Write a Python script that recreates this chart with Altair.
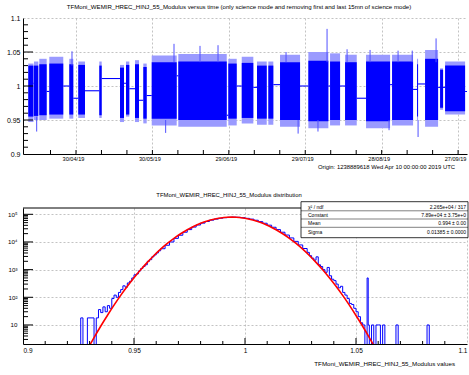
import altair as alt
import pandas as pd

FONT = "Liberation Sans"

# ---------------- top panel: modulus versus time ----------------
# x = days since origin (Wed Apr 10 00:00:00 2019 UTC)
blk_start = [1.27, 3.51, 5.59, 9.52, 17.37, 20.90, 29.15, 37.28, 39.63, 43.17, 46.43, 49.73, 60.17,
             79.80, 85.07, 91.07, 95.51, 100.10, 111.22, 119.74, 125.63, 133.87, 144.08, 153.90,
             157.04, 162.93, 164.90]
blk_end = [3.31, 5.20, 8.49, 15.01, 18.94, 23.53, 30.09, 38.85, 40.93, 44.74, 47.76, 59.54, 79.18,
           83.10, 89.62, 94.88, 97.47, 107.96, 119.07, 123.67, 130.22, 143.30, 152.33, 154.29,
           162.15, 164.11, 172.75]
blk_ext_lo = [0.947, 0.950, 0.950, 0.952, 0.952, 0.953, 0.953, 0.947, 0.955, 0.947, 0.945, 0.942, 0.940,
              0.942, 0.945, 0.943, 0.943, 0.940, 0.938, 0.942, 0.942, 0.938, 0.942, 0.950,
              0.940, 0.965, 0.958]
blk_ext_hi = [1.033, 1.036, 1.040, 1.043, 1.040, 1.036, 1.036, 1.031, 1.036, 1.038, 1.033, 1.045, 1.047,
              1.040, 1.043, 1.036, 1.036, 1.046, 1.050, 1.048, 1.046, 1.046, 1.046, 1.040,
              1.053, 1.026, 1.036]
blk_core_lo = [0.955, 0.956, 0.957, 0.958, 0.958, 0.958, 0.957, 0.953, 0.958, 0.953, 0.952, 0.952, 0.950,
               0.952, 0.953, 0.952, 0.952, 0.950, 0.948, 0.950, 0.950, 0.948, 0.950, 0.955,
               0.950, 0.968, 0.963]
blk_core_hi = [1.030, 1.030, 1.032, 1.033, 1.032, 1.031, 1.030, 1.027, 1.031, 1.032, 1.028, 1.035, 1.036,
               1.033, 1.034, 1.030, 1.030, 1.035, 1.037, 1.036, 1.035, 1.036, 1.036, 1.032,
               1.040, 1.024, 1.030]

gap_start = [3.31, 8.49, 15.01, 18.94, 23.53, 30.09, 38.85, 40.93, 44.74, 47.76, 59.54, 79.18, 83.10,
             89.62, 97.47, 107.96, 119.07, 123.67, 130.22, 143.30, 152.33, 154.29, 162.15, 172.75]
gap_end = [3.51, 9.52, 17.37, 20.90, 29.15, 37.28, 39.63, 43.17, 46.43, 49.73, 60.17, 79.80, 85.07,
           91.07, 100.10, 111.22, 119.74, 125.63, 133.87, 144.08, 153.90, 157.04, 164.90, 173.93]
gap_level = [1.004, 0.992, 1.000, 0.982, 0.993, 1.011, 1.004, 0.996, 0.979, 0.986, 1.015, 0.957, 1.000,
             0.998, 1.002, 1.000, 1.000, 1.000, 0.982, 1.002, 0.995, 1.003, 0.998, 0.992]

spike_day = [4.57, 18.43, 55.2, 58.48, 68.69, 75.76, 102.46, 107.2, 115.0, 118.56, 126.42, 135.45,
             142.9, 146.44, 152.0, 154.29, 161.36]
spike_lo = [0.933, 1.030, 0.931, 1.035, 1.035, 1.035, 1.035, 0.930, 0.933, 1.035, 1.035, 1.035,
            0.935, 1.035, 1.035, 0.925, 1.035]
spike_hi = [0.955, 1.051, 0.950, 1.062, 1.059, 1.060, 1.050, 0.950, 0.950, 1.084, 1.054, 1.053,
            0.950, 1.052, 1.052, 0.950, 1.070]

date_ticks = [20, 50, 80, 110, 140, 170]
date_labels = ["30/04/19", "30/05/19", "29/06/19", "29/07/19", "28/08/19", "27/09/19"]
top_y_ticks = [0.9, 0.95, 1.0, 1.05, 1.1]
top_y_labels = ["0.9", "0.95", "1", "1.05", "1.1"]
top_x_minor = [10, 20, 30, 40, 50, 60, 70, 80, 90, 100, 110, 120, 130, 140, 150, 160, 170]
top_y_major = [0.95, 1.0, 1.05]
top_y_minor = [0.91, 0.92, 0.93, 0.94, 0.96, 0.97, 0.98, 0.99, 1.01, 1.02, 1.03, 1.04,
               1.06, 1.07, 1.08, 1.09]

top_title = ("TFMoni_WEMIR_HREC_HINJ_55_Modulus versus time (only science mode and removing "
             "first and last 15mn of science mode)")
origin_text = "Origin: 1238889618  Wed Apr 10 00:00:00 2019 UTC"

# ---------------- bottom panel: distribution ----------------
hist_x = [0.924, 0.926, 0.927, 0.929, 0.932, 0.933, 0.934, 0.935, 0.936, 0.937, 0.938, 0.939,
          0.940, 0.941, 0.942, 0.943, 0.944, 0.945, 0.946, 0.947, 0.948, 0.949, 0.950, 0.951,
          0.952, 0.953, 0.954, 0.955, 0.956, 0.957, 0.958, 0.959, 0.960, 0.961, 0.962, 0.964,
          0.966, 0.968, 0.970, 0.972, 0.974, 0.976, 0.978, 0.980, 0.982, 0.984, 0.986, 0.988,
          0.990, 0.992, 0.994, 0.996, 0.998, 1.000, 1.002, 1.004, 1.006, 1.008, 1.010, 1.012,
          1.014, 1.016, 1.018, 1.020, 1.022, 1.024, 1.026, 1.028, 1.029, 1.030, 1.031, 1.032,
          1.033, 1.034, 1.035, 1.036, 1.037, 1.038, 1.039, 1.040, 1.041, 1.042, 1.043, 1.044,
          1.045, 1.046, 1.047, 1.048, 1.049, 1.050, 1.051, 1.052, 1.053, 1.054, 1.0550, 1.0555,
          1.056, 1.057, 1.058, 1.059, 1.060, 1.061, 1.062, 1.063, 1.068, 1.069, 1.082, 1.083,
          1.090]
hist_n = [1, 18, 1, 18, 1, 18, 36, 28, 45, 30, 50, 40,
          90, 120, 100, 150, 190, 260, 230, 330, 380, 500, 650, 700,
          900, 1100, 1300, 1500, 2000, 2300, 2900, 3400, 4000, 4800, 5700, 7600,
          10000, 13500, 17500, 22500, 28000, 34500, 41000, 48000, 55000, 61500, 67000, 72000,
          75500, 78000, 79000, 78000, 75500, 71500, 67000, 61000, 54500, 47500, 40500, 34000,
          28000, 22500, 17800, 14000, 10500, 7800, 5800, 4200, 3200, 2600, 2200, 2900,
          1500, 1300, 1000, 800, 1200, 600, 450, 400, 300, 220, 250, 150,
          120, 90, 60, 55, 40, 30, 20, 12, 10, 1, 500, 10,
          1, 10, 1, 10, 10, 1, 10, 1, 10, 1, 10, 1,
          1]

fit_x = [0.929, 0.932, 0.935, 0.938, 0.941, 0.944, 0.947, 0.950, 0.953, 0.956, 0.959, 0.962,
         0.965, 0.968, 0.971, 0.974, 0.977, 0.980, 0.983, 0.986, 0.989, 0.992, 0.994, 0.996,
         0.999, 1.002, 1.005, 1.008, 1.011, 1.014, 1.017, 1.020, 1.023, 1.026, 1.029, 1.032,
         1.035, 1.038, 1.041, 1.044, 1.047, 1.050, 1.053, 1.056, 1.059]
fit_y = [1.3, 3.5, 9.0, 22, 52, 117, 249, 507, 986, 1830, 3240, 5470,
         8810, 13550, 19870, 27810, 37160, 47330, 57590, 66760, 73920, 78080, 78900, 78080,
         73920, 66760, 57590, 47330, 37160, 27810, 19870, 13550, 8810, 5470, 3240, 1830,
         986, 507, 249, 117, 52, 22, 9.0, 3.5, 1.3]

bot_x_ticks = [0.9, 0.95, 1.0, 1.05, 1.1]
bot_x_labels = ["0.9", "0.95", "1", "1.05", "1.1"]
bot_x_minor = [0.91, 0.92, 0.93, 0.94, 0.96, 0.97, 0.98, 0.99, 1.01, 1.02, 1.03, 1.04,
               1.06, 1.07, 1.08, 1.09]
bot_y_ticks = [10, 100, 1000, 10000, 100000]
bot_y_labels = ["10", "10²", "10³", "10⁴", "10⁵"]
bot_y_minor = [3, 4, 5, 6, 7, 8, 9, 20, 30, 40, 50, 60, 70, 80, 90,
               200, 300, 400, 500, 600, 700, 800, 900,
               2000, 3000, 4000, 5000, 6000, 7000, 8000, 9000,
               20000, 30000, 40000, 50000, 60000, 70000, 80000, 90000]

bot_title = "TFMoni_WEMIR_HREC_HINJ_55_Modulus distribution"
bot_xtitle = "TFMoni_WEMIR_HREC_HINJ_55_Modulus values"
stat_names = ["χ² / ndf", "Constant", "Mean", "Sigma"]
stat_values = ["2.265e+04 / 317", "7.89e+04  ± 3.75e+0", "0.994  ± 0.00", "0.01385  ± 0.0000"]

# ---------------- layout constants ----------------
W, H = 444, 136
BLUE = "#0000ff"


def ternary(vals, labels):
    expr = "''"
    for v, l in zip(reversed(vals), reversed(labels)):
        expr = f"abs(datum.value - {v}) < 1e-6 ? '{l}' : ({expr})"
    return expr


def text_layer(text, x, y, size, align="center", baseline="middle"):
    return alt.Chart(pd.DataFrame({"t": [text]})).mark_text(
        font=FONT, fontSize=size, align=align, baseline=baseline, color="black"
    ).encode(x=alt.value(x), y=alt.value(y), text="t:N")


def hrule(x1, x2, y, width=0.5):
    return alt.Chart(pd.DataFrame({"t": [0]})).mark_rule(color="black", strokeWidth=width).encode(
        x=alt.value(x1), x2=alt.value(x2), y=alt.value(y))


# ---- top panel ----
xs_top = alt.Scale(domain=[-0.8, 173.5], nice=False, zero=False)
ys_top = alt.Scale(domain=[0.9, 1.1], nice=False, zero=False)
ax_top_x = alt.Axis(values=date_ticks, labelExpr=ternary(date_ticks, date_labels), title=None,
                    grid=True, ticks=False, labelFontSize=5.6, labelPadding=2, labelOffset=-3,
                    labelOverlap=False)
ax_top_y = alt.Axis(values=top_y_ticks, labelExpr=ternary(top_y_ticks, top_y_labels), title=None,
                    grid=True, ticks=False, labelFontSize=7, labelPadding=3, labelOverlap=False)


def tx(field):
    return alt.X(field, scale=xs_top, axis=ax_top_x)


def ty(field):
    return alt.Y(field, scale=ys_top, axis=ax_top_y)


blocks = pd.DataFrame({"s": blk_start, "e": blk_end, "elo": blk_ext_lo, "ehi": blk_ext_hi,
                       "clo": blk_core_lo, "chi": blk_core_hi})
gaps = pd.DataFrame({"s": gap_start, "e": gap_end, "v": gap_level})
spikes = pd.DataFrame({"d": spike_day, "lo": spike_lo, "hi": spike_hi})

top_ext = alt.Chart(blocks).mark_rect(color="#9a9aff", clip=True).encode(
    x=tx("s:Q"), x2="e:Q", y=ty("elo:Q"), y2="ehi:Q")
top_core = alt.Chart(blocks).mark_rect(color=BLUE, clip=True).encode(
    x=tx("s:Q"), x2="e:Q", y=ty("clo:Q"), y2="chi:Q")
top_spikes = alt.Chart(spikes).mark_rule(color="#5050ff", strokeWidth=1, clip=True).encode(
    x=tx("d:Q"), y=ty("lo:Q"), y2="hi:Q")
top_gaps = alt.Chart(gaps).mark_rule(color=BLUE, strokeWidth=1.1, clip=True).encode(
    x=tx("s:Q"), x2="e:Q", y=ty("v:Q"))
top_xt = alt.Chart(pd.DataFrame({"t": top_x_minor})).mark_rule(color="black").encode(
    x=tx("t:Q"), y=alt.value(H), y2=alt.value(H - 4))
top_ymaj = alt.Chart(pd.DataFrame({"t": top_y_major})).mark_rule(color="black").encode(
    y=ty("t:Q"), x=alt.value(0), x2=alt.value(10))
top_ymin = alt.Chart(pd.DataFrame({"t": top_y_minor})).mark_rule(color="black").encode(
    y=ty("t:Q"), x=alt.value(0), x2=alt.value(5))
pin = alt.Chart(pd.DataFrame({"t": [0]})).mark_rule(opacity=0, strokeWidth=0.5).encode(
    x=alt.value(-23), x2=alt.value(-22), y=alt.value(-18), y2=alt.value(-17))

top = alt.layer(
    top_ext, top_core, top_spikes, top_gaps, top_xt, top_ymaj, top_ymin, pin,
    text_layer(top_title, 216, -11.5, 6.1),
    text_layer(origin_text, 432, 149, 5.9, align="right"),
).properties(width=W, height=H)

# ---- bottom panel ----
xs_bot = alt.Scale(domain=[0.9, 1.1], nice=False, zero=False)
ys_bot = alt.Scale(type="log", domain=[2.05, 169000], nice=False)
ax_bot_x = alt.Axis(values=bot_x_ticks, labelExpr=ternary(bot_x_ticks, bot_x_labels), title=None,
                    grid=True, ticks=False, labelFontSize=6.5, labelPadding=3, labelOverlap=False)
ax_bot_y = alt.Axis(values=bot_y_ticks, labelExpr=ternary(bot_y_ticks, bot_y_labels), title=None,
                    grid=True, ticks=False, labelFontSize=6.2, labelPadding=6, labelOverlap=False)


def bx(field):
    return alt.X(field, scale=xs_bot, axis=ax_bot_x)


def by(field):
    return alt.Y(field, scale=ys_bot, axis=ax_bot_y)


hist = pd.DataFrame({"x": hist_x, "n": hist_n})
fit = pd.DataFrame({"x": fit_x, "y": fit_y})

bot_hist = alt.Chart(hist).mark_line(color=BLUE, strokeWidth=1, interpolate="step-after",
                                     clip=True).encode(x=bx("x:Q"), y=by("n:Q"))
bot_fit = alt.Chart(fit).mark_line(color="#ff0000", strokeWidth=1.6, interpolate="monotone",
                                   clip=True).encode(x=bx("x:Q"), y=by("y:Q"))
bot_xmaj = alt.Chart(pd.DataFrame({"t": bot_x_ticks[1:-1]})).mark_rule(color="black").encode(
    x=bx("t:Q"), y=alt.value(H), y2=alt.value(H - 6))
bot_xmin = alt.Chart(pd.DataFrame({"t": bot_x_minor})).mark_rule(color="black").encode(
    x=bx("t:Q"), y=alt.value(H), y2=alt.value(H - 3))
bot_ymaj = alt.Chart(pd.DataFrame({"t": bot_y_ticks})).mark_rule(color="black").encode(
    y=by("t:Q"), x=alt.value(0), x2=alt.value(10))
bot_ymin = alt.Chart(pd.DataFrame({"t": bot_y_minor})).mark_rule(color="black").encode(
    y=by("t:Q"), x=alt.value(0), x2=alt.value(5))
bot_frame = hrule(0, W, 0, 1)

box_l, box_r, box_t, box_b = 278, 445, -6.3, 29.7
stat_box = alt.Chart(pd.DataFrame({"t": [0]})).mark_rect(
    fill="white", stroke="black", strokeWidth=0.8).encode(
    x=alt.value(box_l), x2=alt.value(box_r), y=alt.value(box_t), y2=alt.value(box_b))
seps = [hrule(box_l, box_r, yy) for yy in [2.8, 11.0, 19.3]]
row_y = [-1.3, 7.0, 15.0, 23.7]
stat_layers = []
for name, val, yy in zip(stat_names, stat_values, row_y):
    stat_layers.append(text_layer(name, box_l + 7, yy, 5.0, align="left"))
    stat_layers.append(text_layer(val, box_r - 2, yy, 5.0, align="right"))

bottom = alt.layer(
    bot_hist, bot_fit, bot_xmaj, bot_xmin, bot_ymaj, bot_ymin, bot_frame, stat_box,
    *seps, *stat_layers,
    text_layer(bot_title, 206, -13, 5.9),
    text_layer(bot_xtitle, 432, 156, 6.2, align="right"),
).properties(width=W, height=H)

chart = alt.vconcat(top, bottom, spacing=54, bounds="flush").properties(
    padding=0, background="white"
).configure_view(stroke=None).configure_axis(
    labelFont=FONT, labelColor="black", domainColor="black", domainWidth=1,
    gridColor="#b4b4b4", gridDash=[2, 2], gridWidth=0.8,
)

chart.save("out.html", embed_options={"renderer": "svg", "actions": False})
